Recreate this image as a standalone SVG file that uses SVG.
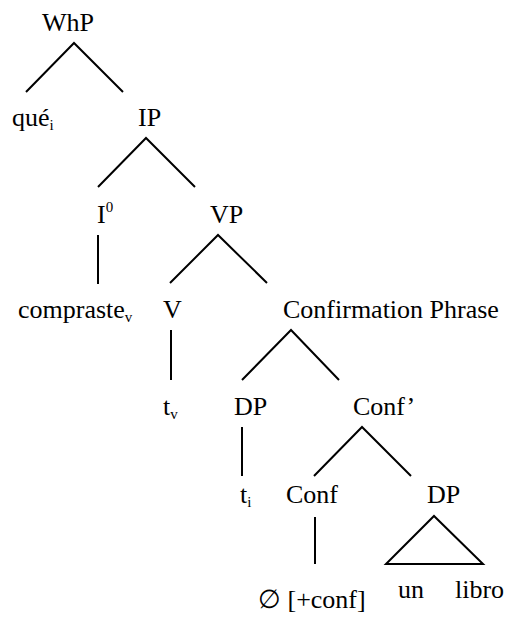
<svg xmlns="http://www.w3.org/2000/svg" width="506" height="618" viewBox="0 0 506 618">
<style>
text{font-family:"Liberation Serif","Times New Roman",serif;font-size:26px;fill:#000}
.sub{font-size:15px}
.e{stroke:#000;stroke-width:2;fill:none}
</style>
<rect width="506" height="618" fill="#fff"/>
<g id="connectors">
<polyline class="e" points="26,92 74,43 123,92"/>
<polyline class="e" points="98,187 146,138 195,187"/>
<line class="e" x1="98" y1="235" x2="98" y2="284"/>
<polyline class="e" points="170,283 218,235 267,283"/>
<line class="e" x1="171" y1="330" x2="171" y2="380"/>
<polyline class="e" points="242,380 291,330 339,380"/>
<line class="e" x1="242" y1="427" x2="242" y2="476"/>
<polyline class="e" points="314,476 362,427 411,476"/>
<line class="e" x1="315" y1="517" x2="315" y2="564"/>
<polygon class="e" points="386,564 434,516 483,564"/>
</g>
<g id="WhP"><text x="42" y="31">WhP</text></g>
<g id="que"><text x="12" y="126">qué<tspan class="sub" dy="4">i</tspan></text></g>
<g id="IP"><text x="138" y="126">IP</text></g>
<g id="I0"><text x="97" y="223">I<tspan class="sub" dy="-11">0</tspan></text></g>
<g id="VP"><text x="210" y="223">VP</text></g>
<g id="compraste"><text x="18" y="318">compraste<tspan class="sub" dy="4">v</tspan></text></g>
<g id="V"><text x="163" y="318">V</text></g>
<g id="ConfP"><text x="283" y="318">Confirmation Phrase</text></g>
<g id="tv"><text x="163" y="415">t<tspan class="sub" dy="4">v</tspan></text></g>
<g id="DP1"><text x="234" y="415">DP</text></g>
<g id="ConfBar"><text x="353" y="415">Conf’</text></g>
<g id="ti"><text x="240" y="503">t<tspan class="sub" dy="4">i</tspan></text></g>
<g id="Conf"><text x="286" y="503">Conf</text></g>
<g id="DP2"><text x="427" y="503">DP</text></g>
<g id="null"><text x="258" y="608">∅ [+conf]</text></g>
<g id="unlibro"><text x="398" y="598">un</text><text x="455" y="598">libro</text></g>
</svg>
